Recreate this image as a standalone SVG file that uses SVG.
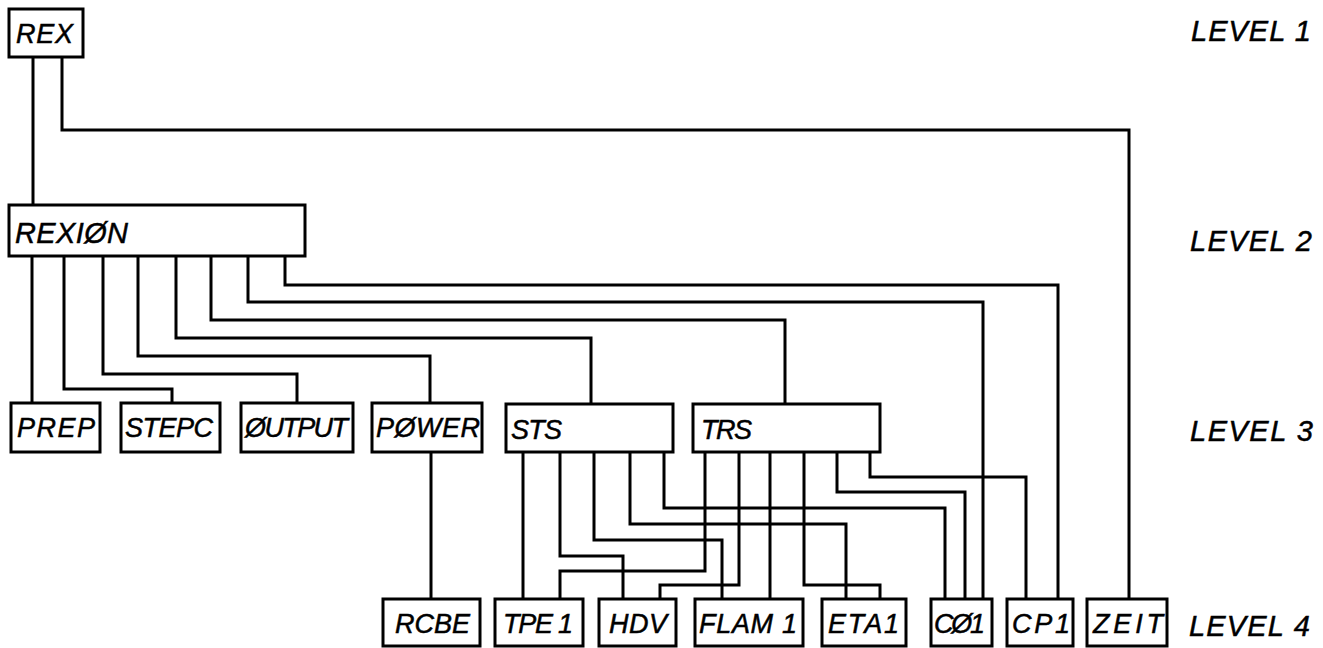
<svg xmlns="http://www.w3.org/2000/svg" width="1323" height="648" viewBox="0 0 1323 648">
<style>
  .box{fill:#fff;stroke:#000;stroke-width:3}
  .lbl{font-family:"Liberation Sans",Arial,sans-serif;font-style:italic;font-size:27px;fill:#000;stroke:#000;stroke-width:0.5}
  .lvl{font-family:"Liberation Sans",Arial,sans-serif;font-style:italic;font-size:29px;fill:#000;stroke:#000;stroke-width:0.5}
  #connectors path{fill:none;stroke:#000;stroke-width:3;stroke-linejoin:miter}
</style>
<rect width="1323" height="648" fill="#fff"/>
<g id="connectors">
  <path d="M33,57 V205"/>
  <path d="M62,57 V130 H1129 V599"/>
  <path d="M32,256 V403"/>
  <path d="M64,256 V389 H172 V403"/>
  <path d="M103,256 V374 H297 V403"/>
  <path d="M138,256 V356 H430 V403"/>
  <path d="M176,256 V338 H591 V404"/>
  <path d="M211,256 V320 H785 V404"/>
  <path d="M248,256 V302 H983 V599"/>
  <path d="M285,256 V285 H1058 V599"/>
  <path d="M431,452 V599"/>
  <path d="M523,452 V599"/>
  <path d="M560,452 V556 H623 V599"/>
  <path d="M594,452 V540 H722 V599"/>
  <path d="M630,452 V524 H846 V599"/>
  <path d="M664,452 V508 H945 V599"/>
  <path d="M705,452 V571 H560 V599"/>
  <path d="M739,452 V585 H660 V599"/>
  <path d="M770,452 V599"/>
  <path d="M804,452 V585 H880 V599"/>
  <path d="M837,452 V492 H965 V599"/>
  <path d="M870,452 V477 H1026 V599"/>
</g>
<g id="REX"><rect class="box" x="9" y="9" width="74" height="48"/><text class="lbl" x="16" y="43" textLength="57" lengthAdjust="spacing">REX</text></g>
<g id="REXION"><rect class="box" x="9" y="205" width="296" height="51"/><text class="lbl" x="15" y="243" style="font-size:29px" textLength="113" lengthAdjust="spacing">REXIØN</text></g>
<g id="PREP"><rect class="box" x="11" y="403" width="89" height="49"/><text class="lbl" x="17" y="437" textLength="78" lengthAdjust="spacing">PREP</text></g>
<g id="STEPC"><rect class="box" x="121" y="403" width="99" height="49"/><text class="lbl" x="125" y="437" textLength="88" lengthAdjust="spacing">STEPC</text></g>
<g id="OUTPUT"><rect class="box" x="241" y="403" width="112" height="49"/><text class="lbl" x="245" y="437" textLength="103" lengthAdjust="spacing">ØUTPUT</text></g>
<g id="POWER"><rect class="box" x="372" y="403" width="110" height="49"/><text class="lbl" x="376" y="437" textLength="104" lengthAdjust="spacing">PØWER</text></g>
<g id="STS"><rect class="box" x="506" y="404" width="167" height="48"/><text class="lbl" x="511" y="439" textLength="51" lengthAdjust="spacing">STS</text></g>
<g id="TRS"><rect class="box" x="693" y="404" width="187" height="48"/><text class="lbl" x="701" y="439" textLength="51" lengthAdjust="spacing">TRS</text></g>
<g id="RCBE"><rect class="box" x="383" y="599" width="97" height="47"/><text class="lbl" x="395" y="633" textLength="75" lengthAdjust="spacing">RCBE</text></g>
<g id="TPE1"><rect class="box" x="495" y="599" width="88" height="47"/><text class="lbl" x="503" y="633" textLength="70" lengthAdjust="spacing">TPE 1</text></g>
<g id="HDV"><rect class="box" x="599" y="599" width="77" height="47"/><text class="lbl" x="609" y="633" textLength="58" lengthAdjust="spacing">HDV</text></g>
<g id="FLAM1"><rect class="box" x="695" y="599" width="108" height="47"/><text class="lbl" x="699" y="633" textLength="98" lengthAdjust="spacing">FLAM 1</text></g>
<g id="ETA1"><rect class="box" x="822" y="599" width="84" height="47"/><text class="lbl" x="828" y="633" textLength="71" lengthAdjust="spacing">ETA1</text></g>
<g id="CO1"><rect class="box" x="931" y="599" width="61" height="47"/><text class="lbl" x="934" y="633" textLength="51" lengthAdjust="spacing">CØ1</text></g>
<g id="CP1"><rect class="box" x="1007" y="599" width="66" height="47"/><text class="lbl" x="1012" y="633" textLength="58" lengthAdjust="spacing">CP1</text></g>
<g id="ZEIT"><rect class="box" x="1087" y="599" width="80" height="47"/><text class="lbl" x="1093" y="633" textLength="70" lengthAdjust="spacing">ZEIT</text></g>
<g id="levels">
  <text class="lvl" x="1191" y="41" textLength="120" lengthAdjust="spacing">LEVEL 1</text>
  <text class="lvl" x="1190" y="251" textLength="122" lengthAdjust="spacing">LEVEL 2</text>
  <text class="lvl" x="1190" y="441" textLength="123" lengthAdjust="spacing">LEVEL 3</text>
  <text class="lvl" x="1189" y="636" textLength="121" lengthAdjust="spacing">LEVEL 4</text>
</g>
</svg>
